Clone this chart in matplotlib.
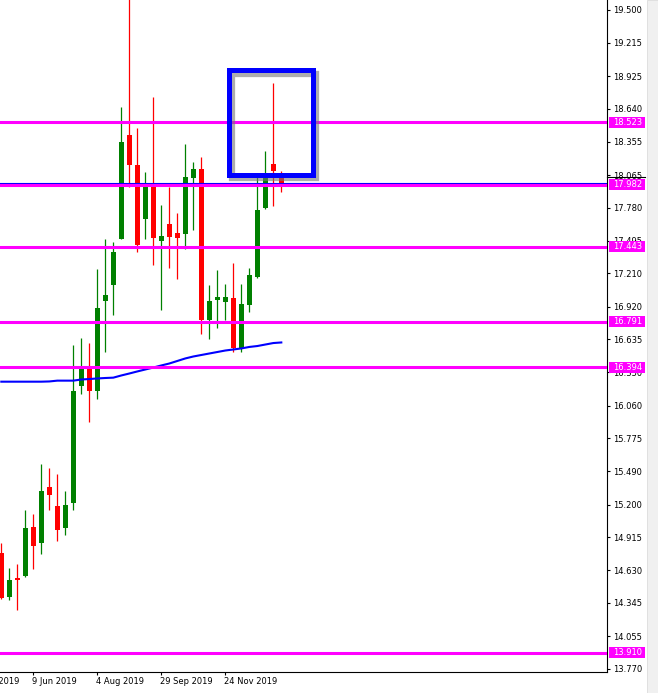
import numpy as np
import pandas as pd
import matplotlib
matplotlib.use('Agg')
import matplotlib.pyplot as plt
import matplotlib.transforms as mtransforms
from matplotlib.patches import Rectangle

# weekly candles, first visible bar = week of 12 May 2019
dates = pd.date_range('2019-05-12', periods=36, freq='7D')

opens = [14.776, 14.398, 14.564, 14.581, 15.004, 14.868, 15.352, 15.187, 14.998, 15.216,
         16.233, 16.378, 16.190, 16.972, 17.111, 17.513, 18.413, 18.152, 17.685, 17.961,
         17.494, 17.639, 17.561, 17.555, 18.042, 18.117, 16.804, 16.978, 16.961, 16.996,
         16.561, 16.935, 17.181, 17.776, 18.161, 18.083]
highs = [14.863, 14.648, 14.683, 15.152, 15.117, 15.552, 15.517, 15.465, 15.317, 16.587,
         16.648, 16.604, 17.248, 17.509, 17.481, 18.657, 19.650, 18.474, 18.091, 18.744,
         17.804, 17.961, 17.735, 18.335, 18.178, 18.222, 17.109, 17.239, 17.117, 17.300,
         17.117, 17.257, 18.048, 18.274, 18.865, 18.100]
lows = [14.380, 14.372, 14.285, 14.570, 14.642, 14.772, 15.152, 14.885, 14.937, 15.152,
        16.164, 15.920, 16.115, 16.529, 16.844, 17.505, 17.964, 17.398, 17.511, 17.285,
        16.894, 17.259, 17.164, 17.424, 17.590, 16.685, 16.639, 16.735, 16.804, 16.526,
        16.526, 16.874, 17.172, 17.770, 17.798, 17.917]
closes = [14.385, 14.544, 14.546, 14.996, 14.842, 15.317, 15.285, 14.981, 15.196, 16.187,
          16.377, 16.190, 16.909, 17.022, 17.394, 18.352, 18.155, 17.457, 17.970, 17.520,
          17.535, 17.529, 17.520, 18.048, 18.117, 16.804, 16.970, 17.004, 17.004, 16.561,
          16.944, 17.196, 17.761, 18.048, 18.100, 17.998]

# moving average
ma = [16.268, 16.268, 16.268, 16.268, 16.268, 16.268, 16.270, 16.277, 16.277, 16.277,
      16.287, 16.291, 16.296, 16.300, 16.303, 16.322, 16.339, 16.357, 16.374, 16.391,
      16.409, 16.426, 16.448, 16.470, 16.487, 16.500, 16.513, 16.526, 16.539, 16.548,
      16.557, 16.570, 16.578, 16.591, 16.604, 16.609]

levels = [18.523, 17.982, 17.443, 16.791, 16.394, 13.910]
bid = 17.998

ytick_labels = ['19.500', '19.215', '18.925', '18.640', '18.355', '18.065', '17.780',
                '17.495', '17.210', '16.920', '16.635', '16.350', '16.060', '15.775',
                '15.490', '15.200', '14.915', '14.630', '14.345', '14.055', '13.770']
xtick_dates = ['2019-04-14', '2019-06-09', '2019-08-04', '2019-09-29', '2019-11-24']
xtick_labels = ['14 Apr 2019', '9 Jun 2019', '4 Aug 2019', '29 Sep 2019', '24 Nov 2019']

# highlight box (in bars / price)
box_x = (28.45, 38.9)
box_y = (18.065, 18.974)

W, H = 658, 693
fig = plt.figure(figsize=(W / 100, H / 100), dpi=100)
ax = fig.add_axes([0, 21 / H, 607 / W, 672 / H])

idx = np.arange(len(dates))
o = np.array(opens)
c = np.array(closes)
cols = np.where(c >= o, '#008000', '#ff0000')

ax.vlines(idx, lows, highs, colors=cols, linewidth=0.9, zorder=2)
body_h = np.maximum(np.abs(c - o), 0.009)
ax.bar(idx, body_h, bottom=np.minimum(o, c), width=0.625, color=cols,
       linewidth=0, zorder=3)

ax.plot(idx, ma, color='#0000ff', lw=1.5, zorder=4)
ax.axhline(bid, color='#0000ff', lw=0.8, zorder=4)
for lvl in levels:
    ax.axhline(lvl, color='#ff00ff', lw=2.2, zorder=5)

# box with shadow
bw = box_x[1] - box_x[0]
bh = box_y[1] - box_y[0]
ax.add_patch(Rectangle((box_x[0] + 0.4, box_y[0] - 0.027), bw, bh, fill=False,
                       edgecolor='#777777', alpha=0.6, lw=4.5, zorder=6))
ax.add_patch(Rectangle((box_x[0], box_y[0]), bw, bh, fill=False,
                       edgecolor='#0000ff', lw=3.6, zorder=7))

ax.set_xlim(-1.3 / 8, (607 - 1.3) / 8)
ax.set_ylim(19.5 - 662 / 115, 19.5 + 10 / 115)

for s in ['left', 'top']:
    ax.spines[s].set_visible(False)
for s in ['right', 'bottom']:
    ax.spines[s].set_linewidth(0.8)

ax.yaxis.tick_right()
ax.set_yticks([float(t) for t in ytick_labels])
ax.set_yticklabels(ytick_labels)
ax.tick_params(axis='y', direction='out', length=2.2, width=0.8, pad=2.5, labelsize=6)

xpos = [(pd.Timestamp(d) - dates[0]).days / 7 for d in xtick_dates]
ax.set_xticks(xpos[1:])
ax.set_xticklabels([])
ax.tick_params(axis='x', direction='out', length=2.2, width=0.8)
xtrans = mtransforms.blended_transform_factory(ax.transData, ax.transAxes)
for xp, lab in zip(xpos, xtick_labels):
    ax.text(xp - 0.15, -10 / 672, lab, transform=xtrans, fontsize=6,
            ha='left', va='center', clip_on=False)

# price labels on the right axis
trans = mtransforms.blended_transform_factory(fig.transFigure, ax.transData)
ax.plot([607 / W, 645 / W], [18.045, 18.045], transform=trans, color='black',
        lw=0.8, clip_on=False, zorder=9)
for lvl in levels:
    ax.add_patch(Rectangle((609 / W, lvl - 5.4 / 115), 36 / W, 10.8 / 115,
                           transform=trans, facecolor='#ff00ff', edgecolor='none',
                           clip_on=False, zorder=10))
    ax.text(613 / W, lvl, f'{lvl:.3f}', transform=trans, color='white', fontsize=6,
            ha='left', va='center', clip_on=False, zorder=11)

fig.patches.append(Rectangle((647 / W, 0), 11 / W, 1, transform=fig.transFigure,
                             facecolor='#f0f0f0', edgecolor='#dcdcdc', lw=0.6))

fig.savefig('out.png', dpi=100)
